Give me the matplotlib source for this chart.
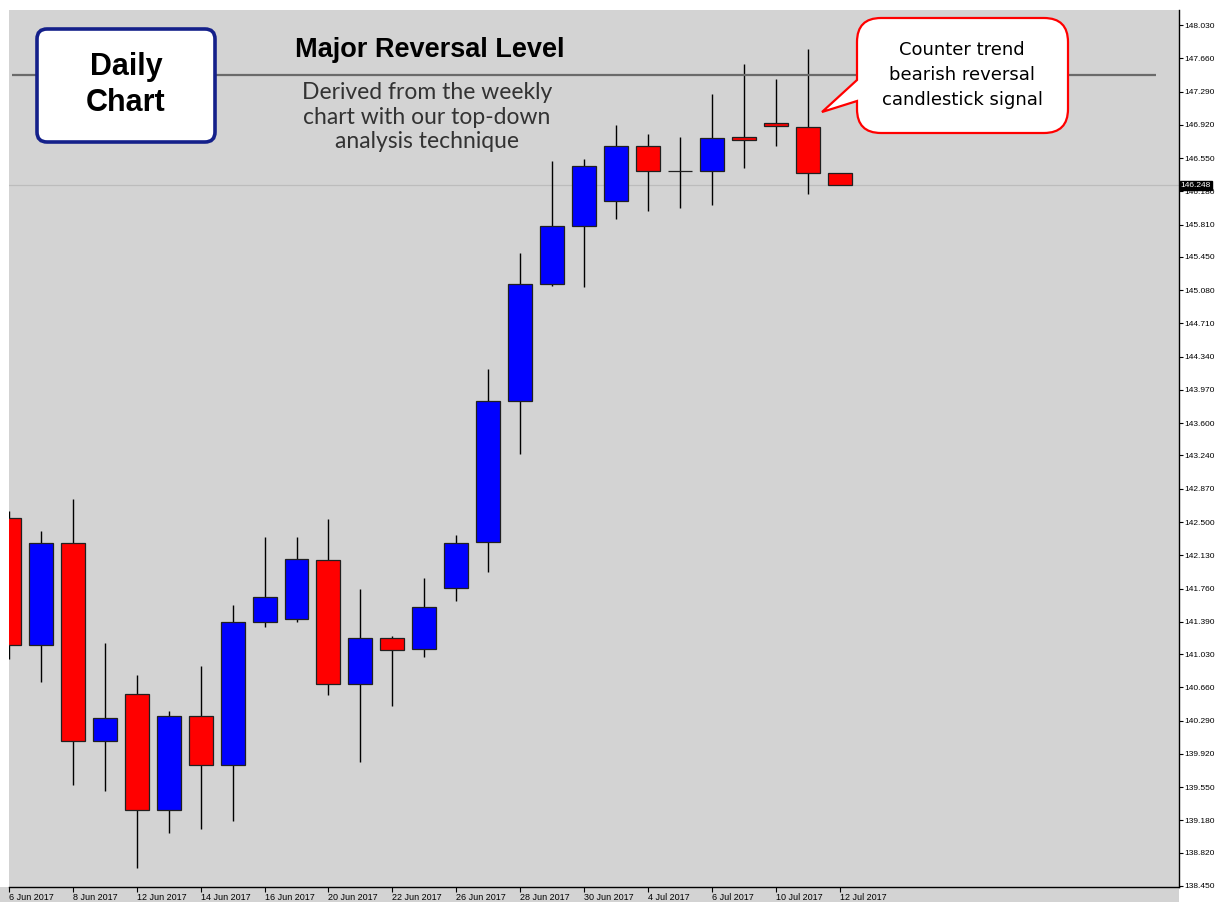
import numpy as np
import matplotlib
matplotlib.use("Agg")
import matplotlib.pyplot as plt
from matplotlib import font_manager
from matplotlib.patches import PathPatch, Rectangle
from matplotlib.path import Path
from matplotlib.transforms import Affine2D, blended_transform_factory

# USDJPY-style daily candles, 6 Jun - 12 Jul 2017
dates = [
    "6 Jun 2017", "7 Jun 2017", "8 Jun 2017", "9 Jun 2017", "12 Jun 2017",
    "13 Jun 2017", "14 Jun 2017", "15 Jun 2017", "16 Jun 2017", "19 Jun 2017",
    "20 Jun 2017", "21 Jun 2017", "22 Jun 2017", "23 Jun 2017", "26 Jun 2017",
    "27 Jun 2017", "28 Jun 2017", "29 Jun 2017", "30 Jun 2017", "3 Jul 2017",
    "4 Jul 2017", "5 Jul 2017", "6 Jul 2017", "7 Jul 2017", "10 Jul 2017",
    "11 Jul 2017", "12 Jul 2017",
]
opens = [
    142.541, 141.131, 142.263, 140.063, 140.589, 139.292, 140.341, 139.796, 141.387,
    141.424, 142.080, 140.701, 141.213, 141.090, 141.769, 142.281, 143.843, 145.145,
    145.793, 146.075, 146.687, 146.409, 146.409, 146.780, 146.936, 146.898, 146.387,
]
highs = [
    142.620, 142.400, 142.756, 141.150, 140.794, 140.400, 140.894, 141.573, 142.330,
    142.330, 142.530, 141.751, 141.235, 141.873, 142.355, 144.206, 145.496, 146.513,
    146.536, 146.917, 146.814, 146.780, 147.262, 147.596, 147.429, 147.763, 146.387,
]
lows = [
    140.980, 140.723, 139.577, 139.510, 138.653, 139.043, 139.087, 139.176, 141.332,
    141.387, 140.571, 139.826, 140.449, 140.998, 141.621, 141.944, 143.253, 145.129,
    145.111, 145.868, 145.960, 145.990, 146.027, 146.439, 146.684, 146.150, 146.248,
]
closes = [
    141.131, 142.263, 140.066, 140.322, 139.292, 140.341, 139.796, 141.391, 141.669,
    142.092, 140.701, 141.213, 141.076, 141.557, 142.270, 143.846, 145.148, 145.793,
    146.464, 146.687, 146.409, 146.409, 146.776, 146.754, 146.903, 146.387, 146.248,
]
price_ticks = [
    148.030, 147.660, 147.290, 146.920, 146.550, 146.180, 145.810, 145.450, 145.080,
    144.710, 144.340, 143.970, 143.600, 143.240, 142.870, 142.500, 142.130, 141.760,
    141.390, 141.030, 140.660, 140.290, 139.920, 139.550, 139.180, 138.820, 138.450,
]
level_price = 147.47
bid_price = 146.248

W, H, DPI = 1216, 902, 100
CHART_BG = "#d3d3d3"
BULL = "#0000ff"
BEAR = "#ff0000"
SCALE_FONT = ["Liberation Sans", "DejaVu Sans"]
HEAD_FONT = ["Liberation Sans", "DejaVu Sans"]


def pick_family(candidates, fallback):
    names = {f.name for f in font_manager.fontManager.ttflist}
    for name in candidates:
        if name in names:
            return name
    return fallback


note_font = pick_family(["Lato", "Open Sans", "Noto Sans"], "DejaVu Sans")


def rounded_box(left, top, right, bottom, r, tail=None):
    """Rounded rectangle path (pixel coords, y down), optional tail on the left side."""
    verts = [(left + r, top), (right - r, top), (right, top), (right, top + r),
             (right, bottom - r), (right, bottom), (right - r, bottom),
             (left + r, bottom), (left, bottom), (left, bottom - r)]
    codes = [Path.MOVETO, Path.LINETO, Path.CURVE3, Path.CURVE3,
             Path.LINETO, Path.CURVE3, Path.CURVE3,
             Path.LINETO, Path.CURVE3, Path.CURVE3]
    if tail is not None:
        y_low, tip, y_high = tail
        verts += [(left, y_low), tip, (left, y_high)]
        codes += [Path.LINETO, Path.LINETO, Path.LINETO]
    verts += [(left, top + r), (left, top), (left + r, top), (left + r, top)]
    codes += [Path.LINETO, Path.CURVE3, Path.CURVE3, Path.CLOSEPOLY]
    return Path(verts, codes)


fig = plt.figure(figsize=(W / DPI, H / DPI), dpi=DPI, facecolor="white")
# pixel coordinates with the origin at the top-left corner
px = Affine2D().scale(1 / DPI, -1 / DPI).translate(0, H / DPI) + fig.dpi_scale_trans

# grey strip behind the date labels
fig.patches.append(Rectangle((0, 0), 1179, 15, transform=Affine2D().scale(1 / DPI) + fig.dpi_scale_trans,
                             facecolor=CHART_BG, edgecolor="none", zorder=-1))

ax = fig.add_axes([9 / W, 15 / H, 1170 / W, 877 / H])
ax.set_facecolor(CHART_BG)

n = len(dates)
x = np.arange(n)
opens_a = np.array(opens)
closes_a = np.array(closes)
body_colors = [BEAR if c < o else BULL for o, c in zip(opens, closes)]

ax.axhline(bid_price, color="#bcbcbc", lw=0.9, zorder=1)
ax.vlines(x, lows, highs, color="black", lw=1.0, zorder=2)
ax.bar(x, closes_a - opens_a, bottom=opens_a, width=0.75, color=body_colors,
       edgecolor="#202020", linewidth=0.9, zorder=3)

# major reversal level drawn across the chart
ax.hlines(level_price, 0.08, 35.9, color="#6a6a6a", lw=1.6, zorder=2)

px_per_price = 861 / (148.03 - 138.45)
ax.set_ylim(148.03 - 862 / px_per_price, 148.03 + 15 / px_per_price)
ax.set_xlim((9 - 7.0) / 32, (1179 - 7.0) / 32)

ax.spines["left"].set_visible(False)
ax.spines["top"].set_visible(False)
ax.spines["right"].set_linewidth(1.0)
ax.spines["bottom"].set_linewidth(1.0)

ax.yaxis.tick_right()
ax.set_yticks(price_ticks)
ax.set_yticklabels([f"{p:.3f}" for p in price_ticks], family=SCALE_FONT)
ax.tick_params(axis="y", direction="out", length=3, width=0.8, pad=1, labelsize=6.0)

ax.set_xticks(x[::2])
ax.set_xticklabels(dates[::2], family=SCALE_FONT)
ax.tick_params(axis="x", direction="out", length=3.5, width=0.8, pad=1, labelsize=6.5)
for lbl in ax.get_xticklabels():
    lbl.set_horizontalalignment("left")

# current bid tag on the price scale
ax.text(1.0015, bid_price, f"{bid_price:.3f}",
        transform=blended_transform_factory(ax.transAxes, ax.transData),
        ha="left", va="center", fontsize=6.0, family=SCALE_FONT, color="white",
        zorder=10, clip_on=False,
        bbox=dict(boxstyle="square,pad=0.12", facecolor="black", edgecolor="black"))

# "Daily Chart" label box
fig.patches.append(PathPatch(rounded_box(37, 29, 215, 142, 10), transform=px,
                             facecolor="white", edgecolor="#14208a", lw=2.6, zorder=5))
fig.text(126, 85, "Daily\nChart", transform=px, ha="center", va="center",
         family=HEAD_FONT, weight="bold", fontsize=22, linespacing=1.28,
         color="black", zorder=6)

# level heading and note
fig.text(430, 50, "Major Reversal Level", transform=px, ha="center", va="center",
         family=HEAD_FONT, weight="bold", fontsize=19.5, color="black", zorder=6)
fig.text(427, 117, "Derived from the weekly\nchart with our top-down\nanalysis technique",
         transform=px, ha="center", va="center", family=note_font, weight="normal",
         fontsize=16.5, linespacing=1.2, color="#333333", zorder=6)

# callout for the reversal candle
fig.patches.append(PathPatch(rounded_box(857, 18, 1068, 133, 24,
                                         tail=(101, (822, 112), 80)),
                             transform=px, facecolor="white", edgecolor="#ff0000",
                             lw=1.6, zorder=5))
fig.text(962, 75, "Counter trend\nbearish reversal\ncandlestick signal", transform=px,
         ha="center", va="center", family="DejaVu Sans", fontsize=13,
         linespacing=1.48, color="black", zorder=6)

fig.savefig("out.png", dpi=DPI, facecolor="white")
